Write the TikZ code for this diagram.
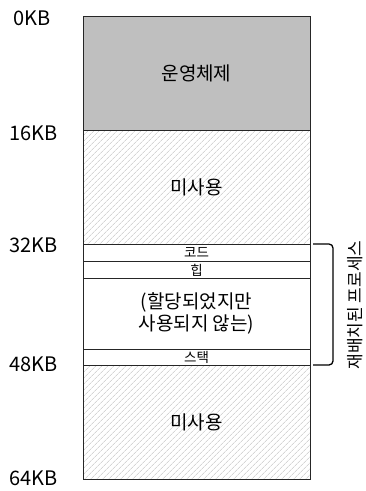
\documentclass[tikz,border=0pt]{standalone}
\usepackage{fontspec}
\setmainfont{Noto Sans CJK KR}
\usetikzlibrary{patterns.meta}
\begin{document}
\begin{tikzpicture}[x=1pt,y=1pt,
  region/.style={draw=black!85, line width=0.8pt, inner sep=0pt, minimum width=227pt, anchor=north, font=\fontsize{19}{21}\selectfont, align=center},
  hatched/.style={region, pattern={Lines[angle=45,distance=4pt,line width=0.5pt]}, pattern color=black!25},
  small/.style={region, font=\fontsize{13.5}{14}\selectfont},
  kb/.style={anchor=west, inner sep=0pt, font=\fontsize{20}{22}\selectfont},
  bigtext/.style={font=\fontsize{19}{21}\selectfont}
]
\useasboundingbox (0,0) rectangle (366,-491);
\node[region, fill=black!25, minimum height=114pt] (os) at (196.5,-16) {운영체제};
\node[hatched, minimum height=114pt] (un1) at (196.5,-130) {};
\node[bigtext] (un1t) at (un1.center) {미사용};
\node[small, minimum height=17pt] (code) at (196.5,-244) {코드};
\node[small, minimum height=17pt] (heap) at (196.5,-261) {힙};
\node[region, minimum height=71pt, font=\fontsize{19}{22}\selectfont] (free) at (196.5,-278) {(할당되었지만\\사용되지 않는)};
\node[small, minimum height=16pt] (stack) at (196.5,-349) {스택};
\node[hatched, minimum height=114pt] (un2) at (196.5,-365) {};
\node[bigtext] (un2t) at (un2.center) {미사용};
\node[kb] (k0) at (13,-18) {0KB};
\node[kb] (k16) at (9,-133) {16KB};
\node[kb] (k32) at (9,-245) {32KB};
\node[kb] (k48) at (9,-364) {48KB};
\node[kb] (k64) at (9,-478) {64KB};
\coordinate (bt) at (313,-244);
\coordinate (bb) at (313,-365);
\draw[line width=1.3pt, rounded corners=4pt] (bt) -- ++(20,0) |- (bb);
\node[rotate=90, font=\fontsize{17}{19}\selectfont] (proc) at (355,-305) {재배치된 프로세스};
\end{tikzpicture}
\end{document}
